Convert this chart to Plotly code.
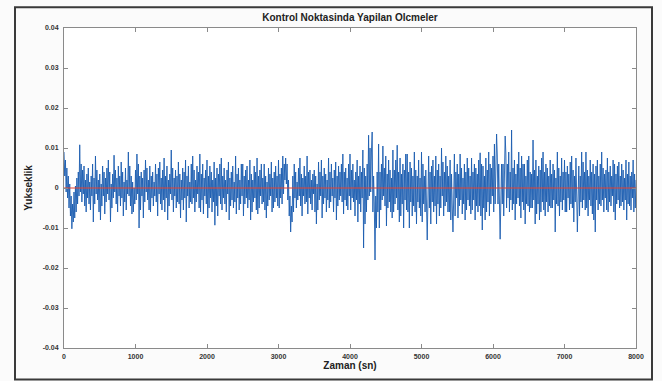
import plotly.graph_objects as go

# Time axis (sn), one reading every 10 sn
zaman = list(range(0, 8001, 10))

# Height readings, in units of 0.0001, grouped per 100 sn
o0000 = [90, 30, 70, -10, 50, -25, 30, -50, 10, -70]
o0100 = [-20, -102, -40, -85, -10, -75, 5, -60, 25, -40]
o0200 = [40, -20, 108, -10, 60, -35, 45, -15, 55, -45]
o0300 = [20, -60, 35, -25, 50, -40, 15, -55, 30, -20]
o0400 = [60, -85, 25, -40, 80, -15, 45, -30, 20, -60]
o0500 = [35, -80, 10, -45, 55, -20, 40, -65, 25, -35]
o0600 = [50, -15, 70, -30, 40, -85, 10, -50, 35, -25]
o0700 = [82, -10, 45, -40, 25, -60, 55, -20, 30, -45]
o0800 = [65, -25, 40, -70, 15, -35, 50, -55, 20, -15]
o0900 = [90, -20, 55, -45, 30, -65, 15, -60, 0, -40]
o1000 = [45, -30, 85, -15, 60, -100, 30, -55, 40, -20]
o1100 = [25, -75, 45, -35, 70, -10, 50, -30, 20, -55]
o1200 = [55, -60, 30, -25, 40, -45, 15, -20, 60, -35]
o1300 = [35, -70, 50, -15, 65, -40, 25, -55, 45, -30]
o1400 = [75, -60, 30, -25, 55, -80, 20, -45, 35, -15]
o1500 = [95, -30, 50, -60, 25, -20, 45, -50, 30, -35]
o1600 = [65, -40, 35, -75, 20, -30, 50, -55, 40, -25]
o1700 = [70, -85, 30, -20, 55, -50, 15, -35, 60, -40]
o1800 = [80, -25, 45, -60, 20, -35, 55, -15, 40, -50]
o1900 = [85, -60, 35, -30, 60, -65, 25, -20, 45, -40]
o2000 = [70, -75, 30, -50, 55, -25, 40, -60, 20, -35]
o2100 = [65, -93, 25, -45, 50, -70, 35, -20, 60, -40]
o2200 = [75, -55, 30, -25, 50, -40, 20, -60, 45, -15]
o2300 = [65, -80, 25, -45, 40, -30, 55, -50, 15, -35]
o2400 = [80, -65, 35, -25, 50, -55, 20, -40, 60, -20]
o2500 = [60, -70, 30, -40, 45, -25, 55, -50, 20, -30]
o2600 = [70, -80, 35, -60, 20, -35, 55, -25, 40, -55]
o2700 = [75, -65, 30, -50, 45, -20, 60, -40, 25, -35]
o2800 = [60, -55, 30, -75, 15, -45, 50, -30, 35, -20]
o2900 = [65, -60, 25, -50, 40, -35, 55, -25, 30, -45]
o3000 = [70, -50, 35, -25, 50, -40, 80, -15, 60, 20]
o3100 = [75, 10, 60, -30, 20, -70, -20, -110, -45, -85]
o3200 = [30, -60, 60, -25, 40, -50, 15, -30, 50, -20]
o3300 = [75, -45, 35, -70, 25, -20, 55, -40, 30, -35]
o3400 = [80, -65, 40, -25, 45, -40, 20, -55, 35, -15]
o3500 = [45, -60, 30, -90, 10, -55, 65, -30, 40, -20]
o3600 = [70, -75, 30, -40, 50, -25, 35, -60, 20, -30]
o3700 = [75, -50, 40, -35, 60, -20, 25, -60, 45, -25]
o3800 = [65, -80, 30, -45, 55, -30, 40, -20, 60, -35]
o3900 = [85, -65, 40, -30, 50, -45, 25, -55, 60, -20]
o4000 = [85, -55, 45, -25, 60, -35, 20, -70, 40, -30]
o4100 = [70, -85, 30, -40, 55, -60, 40, -25, 95, -150]
o4200 = [50, -90, 30, -60, 60, -30, 132, -20, 100, -10]
o4300 = [90, 140, -60, 30, -40, -180, -20, -100, 40, -60]
o4400 = [110, -100, 40, -55, 60, -30, 105, -20, 50, -45]
o4500 = [80, -95, 35, -50, 70, -35, 45, -60, 25, -75]
o4600 = [95, -60, 45, -40, 70, -25, 107, -55, 40, -85]
o4700 = [75, -70, 35, -40, 60, -100, 45, -30, 85, -55]
o4800 = [85, -60, 40, -100, 65, -35, 50, -70, 30, -45]
o4900 = [90, -60, 45, -90, 30, -35, 70, -50, 25, -70]
o5000 = [90, -85, 60, -40, 30, -60, 45, -70, -130, -30]
o5100 = [80, -50, 40, -90, 55, -35, 70, -60, 30, -45]
o5200 = [80, -90, 45, -40, 60, -70, 30, -50, 100, -20]
o5300 = [65, -70, 40, -45, 80, -35, 55, -60, 30, -60]
o5400 = [70, -80, 35, -45, -110, -30, 85, -70, 40, -25]
o5500 = [60, -75, 35, -45, 85, -30, 50, -65, 25, -40]
o5600 = [60, -80, 40, -55, 75, -30, 50, -45, 30, -65]
o5700 = [75, -55, 40, -30, 60, -80, 50, -45, 35, -60]
o5800 = [70, -45, 88, -70, 60, -105, 55, -50, 30, -80]
o5900 = [75, -60, 45, -35, 90, -70, 60, -40, 50, -20]
o6000 = [80, -60, 110, -40, 50, 135, 80, -40, 60, -65]
o6100 = [-128, -30, 60, -40, 60, -70, 45, 130, 85, -50]
o6200 = [60, -25, 90, -60, 40, -30, 145, -55, 50, -40]
o6300 = [70, -80, 35, -40, 60, -25, 90, -45, 50, -75]
o6400 = [80, -35, 60, -55, 60, -90, 30, -40, 70, -45]
o6500 = [80, -60, 40, -50, 35, -50, 120, -30, 45, -90]
o6600 = [70, -65, 30, -40, 55, -80, 45, -60, 75, -35]
o6700 = [90, -55, 40, -70, 60, -35, 50, -60, 30, -45]
o6800 = [70, -50, 35, -50, 60, -30, 45, -110, 25, -40]
o6900 = [90, -45, 50, -70, 30, -35, 75, -55, 40, -30]
o7000 = [70, -60, 40, -60, 55, -25, 35, -55, 65, -40]
o7100 = [80, -50, 45, -85, 30, -35, 75, -45, -110, -25]
o7200 = [55, -70, 30, -35, 90, -50, 65, -30, 40, -55]
o7300 = [90, -50, 45, -70, 30, -30, 70, -45, 40, -65]
o7400 = [60, -80, 35, -110, 55, -30, 70, -55, 30, -40]
o7500 = [60, -45, 90, -30, 50, -60, 35, -25, 45, -55]
o7600 = [75, -60, 40, -35, 55, -45, 30, -20, 70, -60]
o7700 = [60, -80, 35, -40, 55, -30, 65, -50, 30, -45]
o7800 = [60, -35, 45, -55, 25, -30, 70, -80, 35, -40]
o7900 = [65, -45, 30, -55, 40, -25, 70, -60, 35, -50]
o8000 = [20]

olcum = (o0000 + o0100 + o0200 + o0300 + o0400 + o0500 + o0600 + o0700 + o0800 + o0900 +
         o1000 + o1100 + o1200 + o1300 + o1400 + o1500 + o1600 + o1700 + o1800 + o1900 +
         o2000 + o2100 + o2200 + o2300 + o2400 + o2500 + o2600 + o2700 + o2800 + o2900 +
         o3000 + o3100 + o3200 + o3300 + o3400 + o3500 + o3600 + o3700 + o3800 + o3900 +
         o4000 + o4100 + o4200 + o4300 + o4400 + o4500 + o4600 + o4700 + o4800 + o4900 +
         o5000 + o5100 + o5200 + o5300 + o5400 + o5500 + o5600 + o5700 + o5800 + o5900 +
         o6000 + o6100 + o6200 + o6300 + o6400 + o6500 + o6600 + o6700 + o6800 + o6900 +
         o7000 + o7100 + o7200 + o7300 + o7400 + o7500 + o7600 + o7700 + o7800 + o7900 + o8000)
yukseklik = [v * 0.0001 for v in olcum]

referans_x = [0, 8000]
referans_y = [0, 0]

y_tick_vals = [-0.04, -0.03, -0.02, -0.01, 0, 0.01, 0.02, 0.03, 0.04]
y_tick_text = ["-0.04", "-0.03", "-0.02", "-0.01", "0", "0.01", "0.02", "0.03", "0.04"]
x_tick_vals = [0, 1000, 2000, 3000, 4000, 5000, 6000, 7000, 8000]
x_tick_text = ["0", "1000", "2000", "3000", "4000", "5000", "6000", "7000", "8000"]

W, H = 662, 381
L, R, T, B = 64, 26, 28, 28
pw, ph = W - L - R, H - T - B
FONT = "Liberation Sans, Arial"

fig = go.Figure()
fig.add_trace(go.Scatter(x=zaman, y=yukseklik, mode="lines",
                         line=dict(color="#1b5cb0", width=0.9), showlegend=False))
fig.add_trace(go.Scatter(x=referans_x, y=referans_y, mode="lines",
                         line=dict(color="#e8402f", width=1.2), showlegend=False))

axis_common = dict(showline=True, linecolor="#8a8a8a", linewidth=1, mirror="ticks",
                   ticks="inside", ticklen=4, tickcolor="#8a8a8a", showgrid=False, zeroline=False,
                   tickfont=dict(family=FONT, size=7, color="#333333"))

fig.update_layout(
    width=W, height=H,
    margin=dict(l=L, r=R, t=T, b=B),
    paper_bgcolor="#fbfbfb", plot_bgcolor="#ffffff",
    title=dict(text="<b>Kontrol Noktasinda Yapilan Olcmeler</b>", x=(L + pw / 2) / W, xanchor="center",
               y=1 - 17 / H, yanchor="middle",
               font=dict(family=FONT, size=10, color="#222222")),
    xaxis=dict(range=[0, 8000], tickvals=x_tick_vals,
               ticktext=["<b>%s</b>" % t for t in x_tick_text], ticklabelstandoff=2,
               title=dict(text="<b>Zaman (sn)</b>", standoff=2,
                          font=dict(family=FONT, size=10, color="#222222")),
               **axis_common),
    yaxis=dict(range=[-0.04, 0.04], tickvals=y_tick_vals,
               ticktext=["<b>%s</b>" % t for t in y_tick_text], ticklabelstandoff=3,
               title=dict(text="<b>Yukseklik</b>", standoff=8,
                          font=dict(family=FONT, size=10, color="#222222")),
               **axis_common),
)

# Outer figure frame
fx0, fx1 = 15, 652
fy0, fy1 = 7, 385
fig.add_shape(type="rect", xref="paper", yref="paper",
              x0=(fx0 - L) / pw, x1=(fx1 - L) / pw,
              y0=1 - (fy1 - T) / ph, y1=1 - (fy0 - T) / ph,
              line=dict(color="#3a3a3a", width=2), fillcolor="rgba(0,0,0,0)", layer="below")

fig.write_html("out.html")
